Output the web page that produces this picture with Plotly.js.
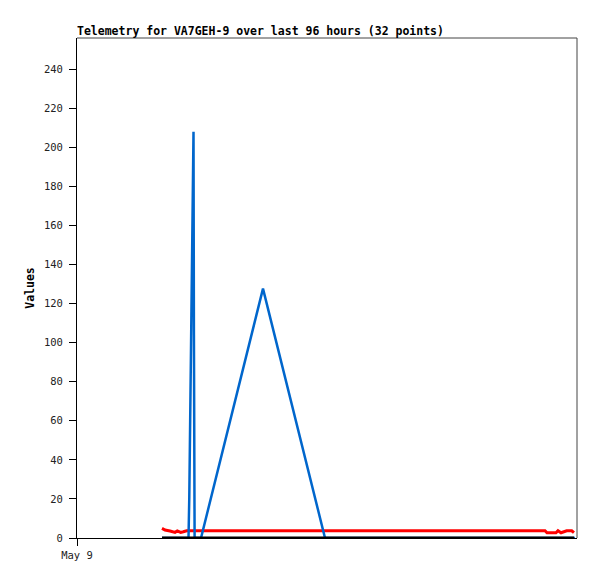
<!DOCTYPE html>
<html>
<head>
<meta charset="utf-8">
<script src="https://cdn.plot.ly/plotly-3.0.1.min.js"></script>
<style>html,body{margin:0;padding:0;background:#fff;}#chart{width:597px;height:579px;}</style>
</head>
<body>
<div id="chart"></div>
<script>
// hours since May 9 00:00
var blueX = [16.32, 21.41, 21.56, 21.73, 21.89, 22.04, 22.20, 22.37, 22.45, 22.58, 23.81, 35.71, 47.62, 95.62];
var blueY = [0, 0, 21, 63, 104, 146, 188, 208, 104, 0, 0, 127.7, 0, 0];

var redX = [16.32, 16.90, 17.86, 18.82, 19.26, 19.91, 20.41, 21.06, 89.86, 90.24, 91.97, 92.35, 92.93, 93.31, 94.02, 94.98, 95.42];
var redY = [4.9, 4.1, 3.6, 2.9, 3.6, 2.9, 3.2, 3.7, 3.7, 2.7, 2.7, 3.7, 2.7, 3.0, 3.7, 3.7, 2.7];

var blackX = [16.32, 95.42];
var blackY = [0, 0];

var xTickVals = [0];
var xTickText = ["May 9"];
var yTickVals = [0, 20, 40, 60, 80, 100, 120, 140, 160, 180, 200, 220, 240];

var traces = [
  {x: redX, y: redY, mode: 'lines', line: {color: '#ff0000', width: 3}, hoverinfo: 'skip'},
  {x: blueX, y: blueY, mode: 'lines', line: {color: '#0066cc', width: 2.5}, hoverinfo: 'skip'},
  {x: blackX, y: blackY, mode: 'lines', line: {color: '#000000', width: 3}, hoverinfo: 'skip'}
];

var mono = '"DejaVu Sans Mono", "Liberation Mono", monospace';
var layout = {
  width: 597, height: 579,
  margin: {l: 77, r: 20, t: 38, b: 41},
  paper_bgcolor: '#ffffff', plot_bgcolor: '#ffffff',
  showlegend: false,
  title: {
    text: '<b>Telemetry for VA7GEH-9 over last 96 hours (32 points)</b>',
    font: {family: mono, size: 11.5, color: '#000'},
    x: 77/597, xref: 'container', xanchor: 'left',
    y: 1 - 31/579, yref: 'container', yanchor: 'middle'
  },
  xaxis: {
    range: [0, 96],
    tickmode: 'array', tickvals: xTickVals, ticktext: xTickText,
    ticks: 'outside', ticklen: 7, tickcolor: '#000', tickwidth: 1,
    showgrid: false, zeroline: false,
    showline: true, linecolor: '#000', linewidth: 1,
    tickfont: {family: mono, size: 10.5, color: '#222'}
  },
  yaxis: {
    range: [0, 256],
    tickmode: 'array', tickvals: yTickVals,
    ticks: 'outside', ticklen: 7, tickcolor: '#000', tickwidth: 1,
    ticklabelstandoff: 4,
    showgrid: false, zeroline: false,
    showline: true, linecolor: '#000', linewidth: 1,
    tickfont: {family: mono, size: 10.5, color: '#222'},
    title: {text: '<b>Values</b>', font: {family: mono, size: 11.5, color: '#000'}, standoff: 6}
  },
  shapes: [
    {type: 'line', xref: 'paper', yref: 'paper', x0: 0, x1: 1, y0: 1, y1: 1, line: {color: '#444', width: 1}},
    {type: 'line', xref: 'paper', yref: 'paper', x0: 1, x1: 1, y0: 0, y1: 1, line: {color: '#444', width: 1}}
  ]
};

Plotly.newPlot('chart', traces, layout, {staticPlot: true, displayModeBar: false});
</script>
</body>
</html>
